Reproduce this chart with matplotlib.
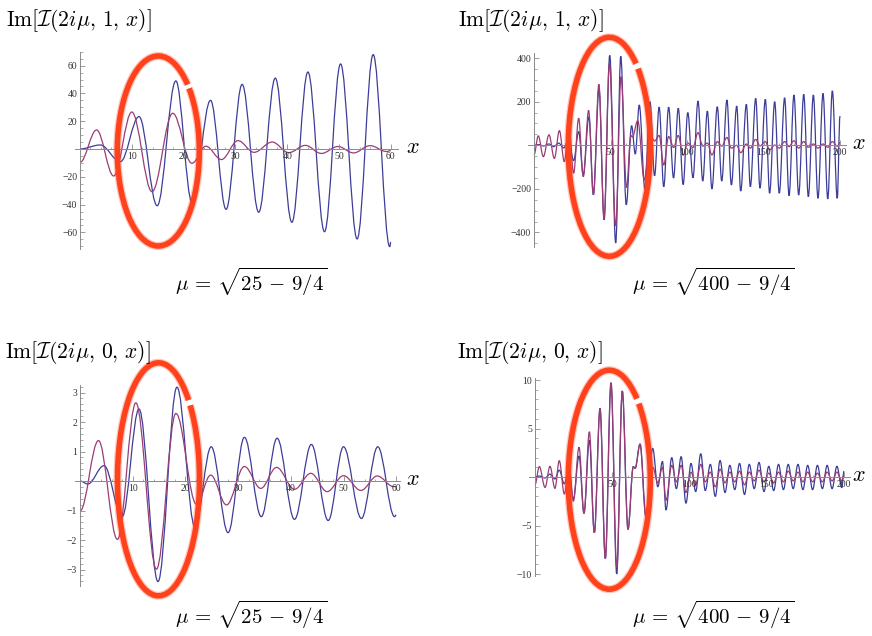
import matplotlib
matplotlib.use("Agg")
import matplotlib.pyplot as plt
from matplotlib.path import Path
from matplotlib.patches import PathPatch, Arc
from matplotlib.ticker import MultipleLocator

plt.rcParams['mathtext.fontset'] = 'cm'

W, H = 872, 636

# ---- data: extrema (x, value) ----
# top left: Im[I(2i mu, 1, x)], mu = sqrt(25 - 9/4)
tl_blue_x = [0, 3.9, 7.8, 11.4, 14.9, 18.5, 21.6, 25.2, 28.2, 31.3, 34.5, 37.7, 40.9, 44.0, 47.2, 50.3, 53.5, 56.6, 59.8, 60.0]
tl_blue_y = [0, 2.9, -9.1, 23.3, -40.8, 49, -38, 35, -43.4, 46.5, -45.5, 51, -52.7, 55.4, -59.5, 61.2, -64.7, 67.9, -70.3, -67]
tl_purple_x = [0, 3.2, 6.5, 10.0, 13.9, 17.9, 21.6, 24.3, 27.3, 30.5, 33.6, 37.1, 40.3, 43.5, 46.6, 49.8, 52.8, 56.0, 59.2, 60]
tl_purple_y = [-9.6, 13.7, -19.4, 26.6, -30.7, 25.7, -10.3, 2.0, -7.6, 6.0, -2.4, 5.0, -2.6, 2.6, -3.2, 1.8, -2.8, 2.4, -1.8, -1.2]

# top right: Im[I(2i mu, 1, x)], mu = sqrt(400 - 9/4)
tr_blue_x = [0, 3, 6.3, 9.6, 12.9, 16.1, 19.4, 22.6, 25.9, 29.2,
             32.2, 35.9, 38.8, 42.5, 45.8, 49.5, 53.4, 56.7, 60.3, 63.8,
             66.2, 68.8, 72.5, 75.8, 78.8, 81.8, 84.8, 88.0, 91.2, 94.3,
             97.5, 100.5, 103.9, 107.2, 110.3, 113.3, 116.3, 119.8, 122.7, 126.1,
             129.0, 132.5, 135.1, 138.8, 141.4, 144.9, 147.7, 151.2, 154.0, 157.3,
             160.3, 163.8, 166.7, 169.9, 173.0, 176.3, 179.3, 182.6, 185.6, 188.9,
             192.0, 195.0, 198.2, 200]
tr_blue_y = [0, 3, -3, 6, -6, 10, -12, 25, -70, 63,
             -136, 131, -227, 260, -341, 412, -448, 408, -273, 90,
             -40, 185, -200, 200, -140, 175, -190, 175, -150, 170,
             -180, 150, -149, 203, -164, 157, -200, 177, -164, 208,
             -182, 180, -210, 188, -190, 215, -197, 211, -220, 200,
             -220, 218, -231, 231, -228, 234, -236, 231, -243, 238,
             -246, 250, -243, 134]
tr_purple_x = [0, 2.8, 6.1, 9.8, 13.3, 16.6, 19.8, 22.8, 25.9, 29.2,
               32.2, 35.7, 38.8, 42.4, 45.8, 49.3, 53.4, 56.9, 60.5, 63.3,
               64.3, 67.8, 72.1, 75.8, 78.8, 81.8, 84.8, 88.0, 91.2, 94.3,
               97.5, 100.5, 103.9, 107.2, 110.3, 113.3, 116.3, 119.8, 122.7, 126.1,
               129.0, 132.5, 135.1, 138.8, 141.4, 144.9, 147.7, 151.2, 154.0, 157.3,
               160.3, 163.8, 166.7, 169.9, 173.0, 176.3, 179.3, 182.6, 185.6, 188.9,
               192.0, 195.0, 198.2, 200]
tr_purple_y = [-44, 43, -52, 48, -60, 67, -75, 90, -128, 124,
               -144, 160, -225, 280, -335, 376, -370, 315, -194, 45,
               38, 113, -159, 50, 20, 45, -90, 40, -10, 45,
               -45, 10, -10, 58, -4, 10, -44, 17, -4, 36,
               -13, 0, -34, 6, -13, 27, -3, 17, -21, 1,
               -13, 17, -6, 21, -13, 17, -9, 6, -13, 6,
               -9, 17, -4, 12]

# bottom left: Im[I(2i mu, 0, x)], mu = sqrt(25 - 9/4)
bl_blue_x = [0, 1.5, 4.55, 8.0, 11.2, 14.8, 18.4, 21.8, 24.9, 28.1, 31.2, 34.4, 37.4, 40.7, 43.9, 47.1, 50.0, 53.4, 56.5, 59.7, 60]
bl_blue_y = [0, -0.1, 0.52, -1.21, 2.44, -3.41, 3.18, -1.55, 1.16, -1.75, 1.48, -1.21, 1.45, -1.3, 1.24, -1.34, 1.16, -1.27, 1.16, -1.21, -1.15]
bl_purple_x = [0, 3.5, 7.1, 10.6, 14.5, 18.2, 22.1, 24.8, 27.8, 31.2, 34.3, 37.3, 40.7, 43.8, 46.9, 50.0, 53.3, 56.4, 59.5, 60]
bl_purple_y = [-1.02, 1.37, -1.98, 2.65, -2.99, 2.29, -0.79, 0.2, -0.81, 0.49, -0.25, 0.46, -0.28, 0.26, -0.36, 0.18, -0.32, 0.17, -0.19, -0.18]

# bottom right: Im[I(2i mu, 0, x)], mu = sqrt(400 - 9/4)
br_x = [0, 2.8, 6.5, 9.7, 12.9, 15.7, 19.0, 22.0, 24.8, 28.5,
        31.7, 35.2, 38.4, 42.1, 45.5, 49.2, 52.9, 56.5, 60.2, 63.6,
        64.8, 68.0, 71.8, 76.2, 79.5, 82.5, 84.8, 88.5, 91.5, 94.6,
        97.7, 101.0, 104.0, 107.3, 110.2, 113.5, 116.7, 119.8, 123.0, 126.1,
        129.3, 132.4, 135.6, 138.7, 141.9, 145.0, 148.2, 151.3, 154.5, 157.6,
        160.8, 163.9, 167.1, 170.2, 173.4, 176.5, 179.7, 182.8, 186.0, 189.1,
        192.3, 195.4, 198.6, 200]
br_blue_y = [0, 0.1, -0.1, 0.3, -0.2, 0.7, -0.7, 0.9, -2.3, 2.16,
             -3.75, 3.8, -5.74, 7.08, -8.4, 9.72, -10.0, 8.87, -5.4, 1.07,
             0.9, 3.4, -4.1, 2.95, -1.0, 1.6, -3.4, 2.0, -1.2, 2.1,
             -2.7, 1.4, -1.5, 2.4, -1.4, 1.3, -2.0, 1.7, -1.6, 1.2,
             -1.3, 1.4, -1.8, 1.3, -1.2, 1.5, -1.5, 1.1, -1.4, 1.3,
             -1.3, 1.3, -1.2, 1.3, -1.3, 1.2, -1.3, 1.2, -1.2, 1.2,
             -1.2, 1.1, -1.1, 0.6]
br_purple_y = [-0.8, 1.07, -1.07, 1.1, -1.17, 1.68, -1.75, 1.2, -2.5, 3.06,
               -3.75, 4.67, -5.74, 7.08, -8.4, 9.72, -9.3, 8.87, -5.4, 1.07,
               0.9, 3.4, -4.1, 1.0, -0.6, 1.0, -2.4, 1.2, -0.5, 1.2,
               -1.6, 0.5, -0.8, 1.3, -0.5, 0.5, -1.0, 0.8, -0.6, 0.5,
               -0.5, 0.6, -0.8, 0.5, -0.4, 0.7, -0.5, 0.4, -0.6, 0.5,
               -0.5, 0.6, -0.4, 0.5, -0.5, 0.5, -0.5, 0.4, -0.5, 0.5,
               -0.4, 0.5, -0.4, 0.3]

titles = [r'$\mathrm{Im}\left[\mathcal{I}(2i\mu,\,1,\,x)\right]$',
          r'$\mathrm{Im}\left[\mathcal{I}(2i\mu,\,1,\,x)\right]$',
          r'$\mathrm{Im}\left[\mathcal{I}(2i\mu,\,0,\,x)\right]$',
          r'$\mathrm{Im}\left[\mathcal{I}(2i\mu,\,0,\,x)\right]$']
mu_labels = [r'$\mu\,=\,\sqrt{25\, -\, 9/4}$', r'$\mu\,=\,\sqrt{400\, -\, 9/4}$',
             r'$\mu\,=\,\sqrt{25\, -\, 9/4}$', r'$\mu\,=\,\sqrt{400\, -\, 9/4}$']

BLUE = '#3d3d99'
PURPLE = '#993d74'
RED = '#ff421c'
AXC = '#8a8a8a'


def smooth_path(xs, ys, k=0.364):
    # cubic segments with flat tangents at every extremum
    verts = [(xs[0], ys[0])]
    codes = [Path.MOVETO]
    for i in range(1, len(xs)):
        dx = xs[i] - xs[i - 1]
        verts += [(xs[i - 1] + k * dx, ys[i - 1]), (xs[i] - k * dx, ys[i]), (xs[i], ys[i])]
        codes += [Path.CURVE4] * 3
    return Path(verts, codes)


fig = plt.figure(figsize=(W / 100, H / 100), dpi=100)


def make_axes(x0px, xs, xlim, y0px, ys, ylim):
    left = x0px + xlim[0] * xs
    right = x0px + xlim[1] * xs
    top = y0px - ylim[1] * ys
    bottom = y0px - ylim[0] * ys
    ax = fig.add_axes([left / W, 1 - bottom / H, (right - left) / W, (bottom - top) / H])
    ax.set_xlim(*xlim)
    ax.set_ylim(*ylim)
    ax.patch.set_alpha(0)
    for s in ['top', 'right']:
        ax.spines[s].set_visible(False)
    ax.spines['left'].set_position(('data', 0))
    ax.spines['bottom'].set_position(('data', 0))
    for s in ['left', 'bottom']:
        ax.spines[s].set_color(AXC)
        ax.spines[s].set_linewidth(0.7)
    return ax


def style_ticks(ax, xmaj, xminor, ymaj, yminor):
    ax.set_xticks(xmaj)
    ax.set_yticks(ymaj)
    ax.xaxis.set_minor_locator(MultipleLocator(xminor))
    ax.yaxis.set_minor_locator(MultipleLocator(yminor))
    ax.tick_params(which='major', direction='in', length=3.5, width=0.6, color=AXC,
                   labelsize=7, pad=2)
    ax.tick_params(which='minor', direction='in', length=1.8, width=0.5, color=AXC)
    for lab in ax.get_xticklabels() + ax.get_yticklabels():
        lab.set_fontfamily('Liberation Serif')
        lab.set_color('#333333')


def draw(ax, bx, by, px, py):
    ax.add_patch(PathPatch(smooth_path(bx, by), fill=False, edgecolor=BLUE, lw=0.9))
    ax.add_patch(PathPatch(smooth_path(px, py), fill=False, edgecolor=PURPLE, lw=0.9))


ax1 = make_axes(80, 5.18, (-1, 61.4), 149, 1.39, (-72, 70))
style_ticks(ax1, [10, 20, 30, 40, 50, 60], 2, [-60, -40, -20, 20, 40, 60], 5)
draw(ax1, tl_blue_x, tl_blue_y, tl_purple_x, tl_purple_y)

ax2 = make_axes(534, 1.53, (-4, 204), 145.3, 0.218, (-465, 425))
style_ticks(ax2, [50, 100, 150, 200], 10, [-400, -200, 200, 400], 50)
draw(ax2, tr_blue_x, tr_blue_y, tr_purple_x, tr_purple_y)

ax3 = make_axes(80, 5.27, (-1, 60.8), 481, 29.5, (-3.55, 3.25))
style_ticks(ax3, [10, 20, 30, 40, 50, 60], 2, [-3, -2, -1, 1, 2, 3], 0.2)
draw(ax3, bl_blue_x, bl_blue_y, bl_purple_x, bl_purple_y)

ax4 = make_axes(535, 1.545, (-4, 204), 477, 9.7, (-10.2, 10.2))
style_ticks(ax4, [50, 100, 150, 200], 10, [-10, -5, 5, 10], 1)
draw(ax4, br_x, br_blue_y, br_x, br_purple_y)

# titles, x labels, mu labels (pixel positions)
title_pos = [(6, 20), (458, 20), (5, 353), (457, 353)]
mu_pos = [(251, 282), (713, 282), (251, 615), (713, 615)]
xlab_pos = [(413, 147), (859, 143), (413, 479), (859, 475)]
for (tx, ty), t in zip(title_pos, titles):
    fig.text(tx / W, 1 - ty / H, t, fontsize=15.5, ha='left', va='center')
for (mx, my), t in zip(mu_pos, mu_labels):
    fig.text(mx / W, 1 - my / H, t, fontsize=15, ha='center', va='center')
for (lx, ly) in xlab_pos:
    fig.text(lx / W, 1 - ly / H, r'$x$', fontsize=16, ha='center', va='center')

# hand-drawn red ellipses on top, in pixel space
ov = fig.add_axes([0, 0, 1, 1])
ov.set_xlim(0, W)
ov.set_ylim(H, 0)
ov.axis('off')
ov.patch.set_alpha(0)
ellipses = [((158.3, 151), 82, 190, -65), ((609.3, 146.8), 82, 219, -71),
            ((158.5, 479.3), 82, 233, -68), ((609.3, 479.7), 82, 219, -70)]
for (c, ew, eh, gap) in ellipses:
    for lw, a in [(5.8, 0.3), (4.0, 1.0)]:
        ov.add_patch(Arc(c, ew, eh, theta1=gap + 1.2, theta2=gap - 1.2 + 360,
                         color=RED, lw=lw, alpha=a))

fig.savefig('out.png', dpi=100)
